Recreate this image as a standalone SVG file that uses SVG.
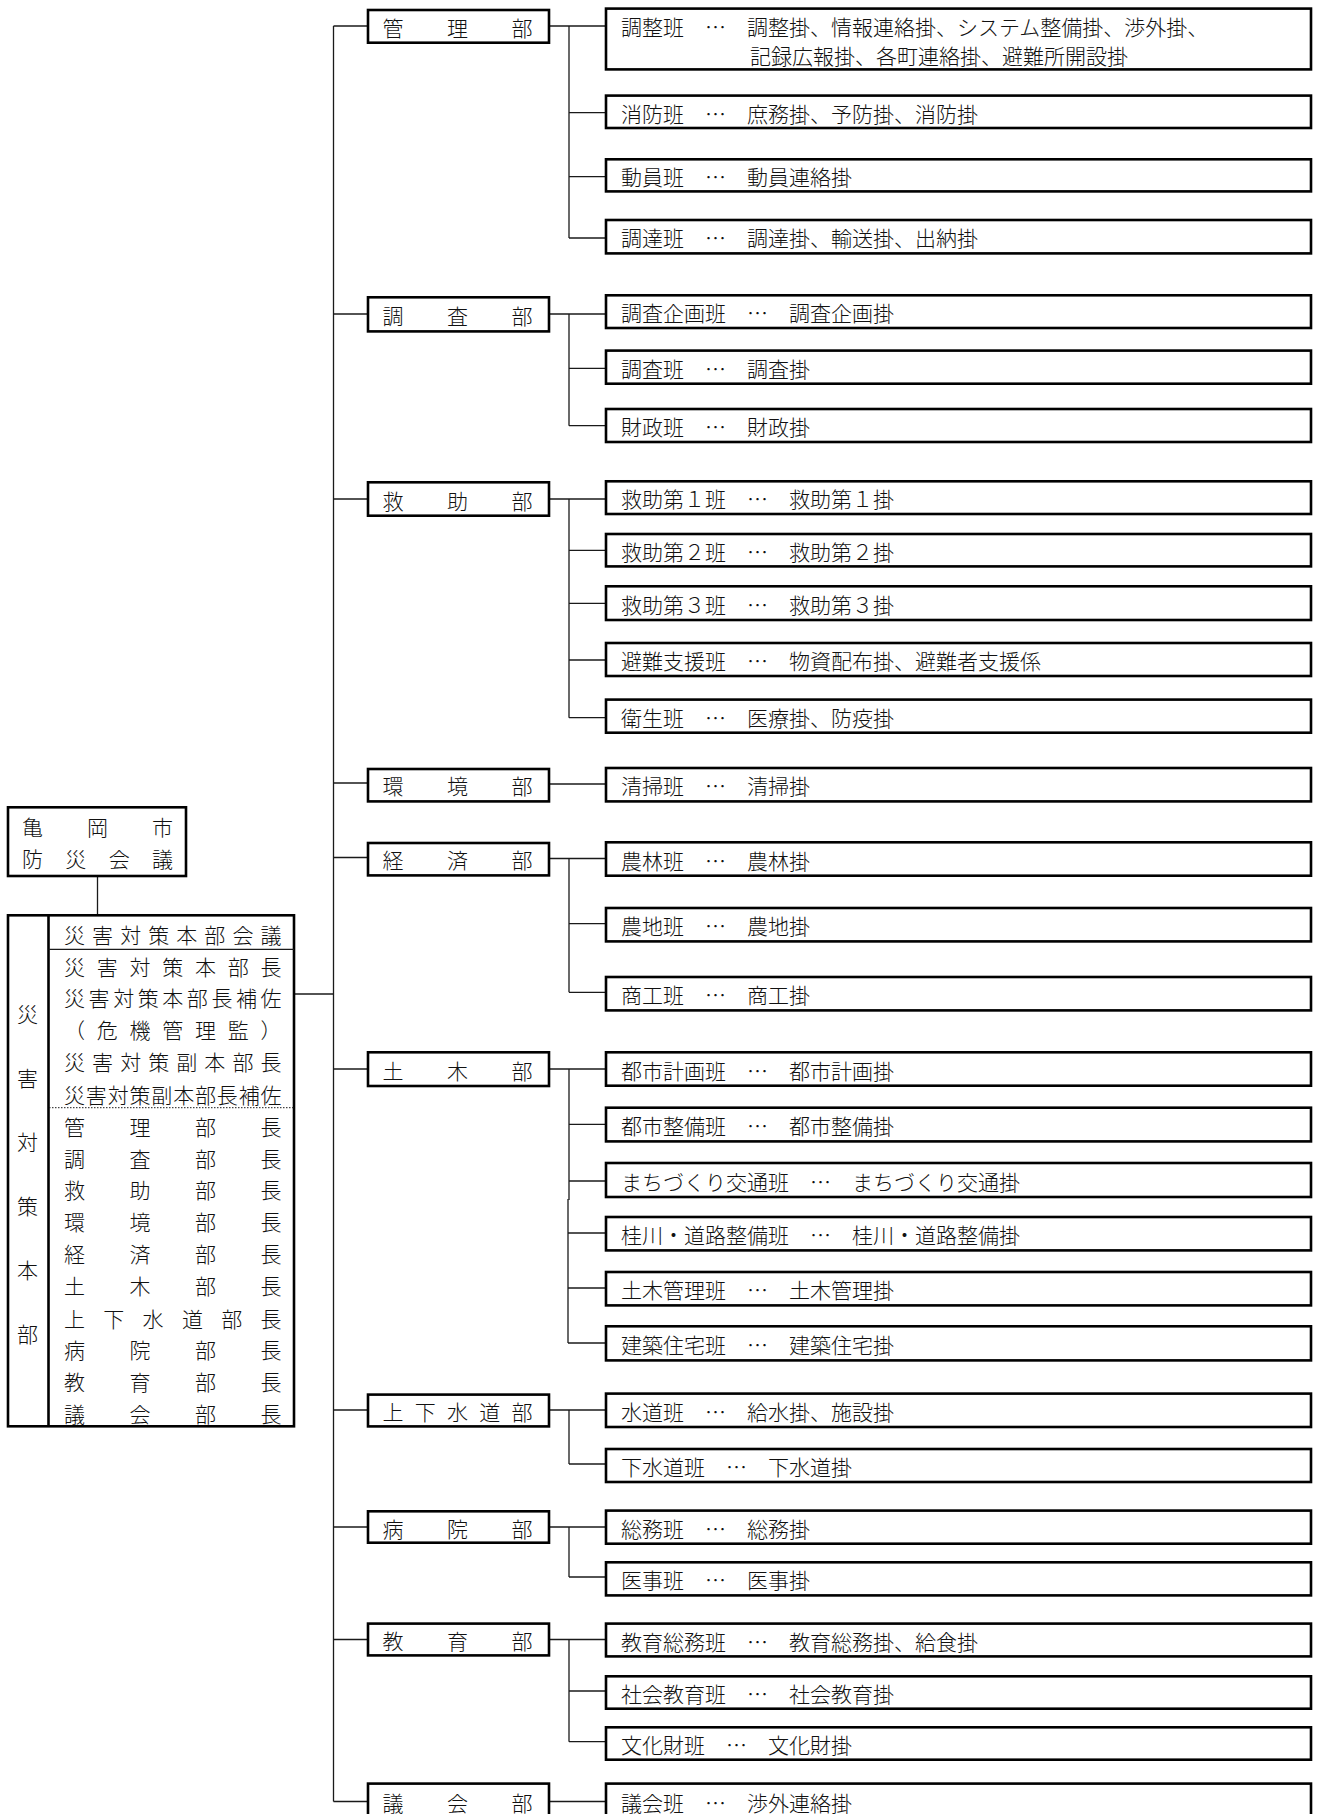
<svg xmlns="http://www.w3.org/2000/svg" width="1319" height="1814" viewBox="0 0 1319 1814">
<style>
.box{fill:#fff;stroke:#000;stroke-width:2.6}
.ln{fill:none;stroke:#1a1a1a;stroke-width:1.3}
.thin{fill:none;stroke:#1a1a1a;stroke-width:1.2}
.dot{fill:none;stroke:#1a1a1a;stroke-width:1;stroke-dasharray:1.5 1.5}
text{font-family:"Noto Sans CJK JP","Noto Sans CJK SC",sans-serif;font-size:21px;fill:#111;dominant-baseline:central;font-weight:300}
.mid{text-anchor:middle}
</style>
<rect width="1319" height="1814" fill="#fff"/>

<g id="connectors">
  <line class="ln" x1="97.5" y1="877" x2="97.5" y2="914"/>
  <line class="ln" x1="295" y1="994" x2="333.5" y2="994"/>
  <line class="ln" x1="333.5" y1="26" x2="333.5" y2="1801.5"/>
  <line class="ln" x1="333.5" y1="26" x2="368" y2="26"/>
  <line class="ln" x1="333.5" y1="314" x2="368" y2="314"/>
  <line class="ln" x1="333.5" y1="499" x2="368" y2="499"/>
  <line class="ln" x1="333.5" y1="783" x2="368" y2="783"/>
  <line class="ln" x1="333.5" y1="857.5" x2="368" y2="857.5"/>
  <line class="ln" x1="333.5" y1="1069" x2="368" y2="1069"/>
  <line class="ln" x1="333.5" y1="1410" x2="368" y2="1410"/>
  <line class="ln" x1="333.5" y1="1527" x2="368" y2="1527"/>
  <line class="ln" x1="333.5" y1="1639.5" x2="368" y2="1639.5"/>
  <line class="ln" x1="333.5" y1="1801.5" x2="368" y2="1801.5"/>
  <line class="ln" x1="549" y1="26" x2="606" y2="26"/>
  <line class="ln" x1="569" y1="26" x2="569" y2="238"/>
  <line class="ln" x1="569" y1="112.7" x2="606" y2="112.7"/>
  <line class="ln" x1="569" y1="176.7" x2="606" y2="176.7"/>
  <line class="ln" x1="569" y1="238" x2="606" y2="238"/>
  <line class="ln" x1="549" y1="314" x2="606" y2="314"/>
  <line class="ln" x1="569" y1="314" x2="569" y2="425.7"/>
  <line class="ln" x1="569" y1="368.3" x2="606" y2="368.3"/>
  <line class="ln" x1="569" y1="425.7" x2="606" y2="425.7"/>
  <line class="ln" x1="549" y1="499" x2="606" y2="499"/>
  <line class="ln" x1="569" y1="499" x2="569" y2="717.7"/>
  <line class="ln" x1="569" y1="550.3" x2="606" y2="550.3"/>
  <line class="ln" x1="569" y1="603.3" x2="606" y2="603.3"/>
  <line class="ln" x1="569" y1="660" x2="606" y2="660"/>
  <line class="ln" x1="569" y1="717.7" x2="606" y2="717.7"/>
  <line class="ln" x1="549" y1="784" x2="606" y2="784"/>
  <line class="ln" x1="549" y1="858.5" x2="606" y2="858.5"/>
  <line class="ln" x1="569" y1="858.5" x2="569" y2="992.3"/>
  <line class="ln" x1="569" y1="923.7" x2="606" y2="923.7"/>
  <line class="ln" x1="569" y1="992.3" x2="606" y2="992.3"/>
  <line class="ln" x1="549" y1="1069" x2="606" y2="1069"/>
  <line class="ln" x1="569" y1="1069" x2="569" y2="1200"/>
  <line class="ln" x1="568" y1="1199" x2="568" y2="1343"/>
  <line class="ln" x1="569" y1="1124.3" x2="606" y2="1124.3"/>
  <line class="ln" x1="569" y1="1181" x2="606" y2="1181"/>
  <line class="ln" x1="568" y1="1233" x2="606" y2="1233"/>
  <line class="ln" x1="568" y1="1288" x2="606" y2="1288"/>
  <line class="ln" x1="568" y1="1343" x2="606" y2="1343"/>
  <line class="ln" x1="549" y1="1410" x2="606" y2="1410"/>
  <line class="ln" x1="569" y1="1410" x2="569" y2="1464"/>
  <line class="ln" x1="569" y1="1464" x2="606" y2="1464"/>
  <line class="ln" x1="549" y1="1527" x2="606" y2="1527"/>
  <line class="ln" x1="569" y1="1527" x2="569" y2="1577"/>
  <line class="ln" x1="569" y1="1577" x2="606" y2="1577"/>
  <line class="ln" x1="549" y1="1639.5" x2="606" y2="1639.5"/>
  <line class="ln" x1="569" y1="1639.5" x2="569" y2="1741.7"/>
  <line class="ln" x1="569" y1="1691" x2="606" y2="1691"/>
  <line class="ln" x1="569" y1="1741.7" x2="606" y2="1741.7"/>
  <line class="ln" x1="549" y1="1801.5" x2="606" y2="1801.5"/>
</g>

<g id="kameoka-bousai-kaigi">
  <rect class="box" x="8" y="807.3" width="178" height="68.7"/>
  <text x="22" y="826">亀</text><text x="87" y="826">岡</text><text x="152" y="826">市</text>
  <text x="22" y="857.5">防</text><text x="65.3" y="857.5">災</text><text x="108.7" y="857.5">会</text><text x="152" y="857.5">議</text>
</g>

<g id="saigai-taisaku-honbu">
  <rect class="box" x="8" y="915.3" width="286" height="511"/>
  <line class="box" x1="48.5" y1="915.3" x2="48.5" y2="1426.3"/>
  <line class="thin" x1="48.5" y1="949.3" x2="294" y2="949.3"/>
  <line class="dot" x1="49" y1="1107.7" x2="294" y2="1107.7"/>
  <text class="mid" x="27.5" y="1013">災</text>
  <text class="mid" x="27.5" y="1077">害</text>
  <text class="mid" x="27.5" y="1141">対</text>
  <text class="mid" x="27.5" y="1205">策</text>
  <text class="mid" x="27.5" y="1269">本</text>
  <text class="mid" x="27.5" y="1333">部</text>
  <text x="64 92.07 120.14 148.21 176.29 204.36 232.43 260.5" y="934">災害対策本部会議</text>
  <text x="64 96.75 129.5 162.25 195 227.75 260.5" y="966">災害対策本部長</text>
  <text x="64 88.56 113.13 137.69 162.25 186.81 211.38 235.94 260.5" y="997">災害対策本部長補佐</text>
  <text x="64 96.75 129.5 162.25 195 227.75 260.5" y="1029">（危機管理監）</text>
  <text x="64 92.07 120.14 148.21 176.29 204.36 232.43 260.5" y="1061">災害対策副本部長</text>
  <text x="64 85.83 107.67 129.5 151.33 173.17 195 216.83 238.67 260.5" y="1094">災害対策副本部長補佐</text>
  <text x="64 129.5 195 260.5" y="1126">管理部長</text>
  <text x="64 129.5 195 260.5" y="1157.5">調査部長</text>
  <text x="64 129.5 195 260.5" y="1189">救助部長</text>
  <text x="64 129.5 195 260.5" y="1221">環境部長</text>
  <text x="64 129.5 195 260.5" y="1252.5">経済部長</text>
  <text x="64 129.5 195 260.5" y="1285">土木部長</text>
  <text x="64 103.3 142.6 181.9 221.2 260.5" y="1317.5">上下水道部長</text>
  <text x="64 129.5 195 260.5" y="1349">病院部長</text>
  <text x="64 129.5 195 260.5" y="1381">教育部長</text>
  <text x="64 129.5 195 260.5" y="1412.5">議会部長</text>
</g>

<g id="dept-kanri"><rect class="box" x="368" y="10" width="181" height="32.7"/><text x="382.5 447 511.5" y="26.5">管理部</text></g>
<g id="dept-chousa"><rect class="box" x="368" y="297.3" width="181" height="34.1"/><text x="382.5 447 511.5" y="314.5">調査部</text></g>
<g id="dept-kyujo"><rect class="box" x="368" y="482.3" width="181" height="33.4"/><text x="382.5 447 511.5" y="499.5">救助部</text></g>
<g id="dept-kankyo"><rect class="box" x="368" y="769" width="181" height="32.4"/><text x="382.5 447 511.5" y="785">環境部</text></g>
<g id="dept-keizai"><rect class="box" x="368" y="843" width="181" height="32.4"/><text x="382.5 447 511.5" y="859">経済部</text></g>
<g id="dept-doboku"><rect class="box" x="368" y="1052.3" width="181" height="33.7"/><text x="382.5 447 511.5" y="1069.5">土木部</text></g>
<g id="dept-jougesuidou"><rect class="box" x="368" y="1394.6" width="181" height="31.8"/><text x="382.5 414.75 447 479.25 511.5" y="1410.5">上下水道部</text></g>
<g id="dept-byouin"><rect class="box" x="368" y="1511.3" width="181" height="31.4"/><text x="382.5 447 511.5" y="1527.5">病院部</text></g>
<g id="dept-kyouiku"><rect class="box" x="368" y="1623.6" width="181" height="31.8"/><text x="382.5 447 511.5" y="1640">教育部</text></g>
<g id="dept-gikai"><rect class="box" x="368" y="1783.6" width="181" height="40"/><text x="382.5 447 511.5" y="1801.5">議会部</text></g>

<g id="han-chousei"><rect class="box" x="606" y="8.6" width="705" height="60.8"/><text x="621" y="26">調整班　…　調整掛、情報連絡掛、システム整備掛、渉外掛、</text><text x="750" y="55">記録広報掛、各町連絡掛、避難所開設掛</text></g>
<g id="han-shoubou"><rect class="box" x="606" y="95.6" width="705" height="32.4"/><text x="621" y="112.5">消防班　…　庶務掛、予防掛、消防掛</text></g>
<g id="han-douin"><rect class="box" x="606" y="159.3" width="705" height="32.1"/><text x="621" y="176">動員班　…　動員連絡掛</text></g>
<g id="han-choutatsu"><rect class="box" x="606" y="220" width="705" height="33.4"/><text x="621" y="237.2">調達班　…　調達掛、輸送掛、出納掛</text></g>
<g id="han-chousakikaku"><rect class="box" x="606" y="295.3" width="705" height="32.7"/><text x="621" y="312.2">調査企画班　…　調査企画掛</text></g>
<g id="han-chousa"><rect class="box" x="606" y="350.6" width="705" height="33.1"/><text x="621" y="367.7">調査班　…　調査掛</text></g>
<g id="han-zaisei"><rect class="box" x="606" y="409" width="705" height="33"/><text x="621" y="426">財政班　…　財政掛</text></g>
<g id="han-kyujo1"><rect class="box" x="606" y="481.3" width="705" height="32.7"/><text x="621" y="498.2">救助第１班　…　救助第１掛</text></g>
<g id="han-kyujo2"><rect class="box" x="606" y="534" width="705" height="32.4"/><text x="621" y="550.7">救助第２班　…　救助第２掛</text></g>
<g id="han-kyujo3"><rect class="box" x="606" y="586.3" width="705" height="33.7"/><text x="621" y="603.6">救助第３班　…　救助第３掛</text></g>
<g id="han-hinanshien"><rect class="box" x="606" y="643" width="705" height="33"/><text x="621" y="660">避難支援班　…　物資配布掛、避難者支援係</text></g>
<g id="han-eisei"><rect class="box" x="606" y="699.6" width="705" height="33.1"/><text x="621" y="716.7">衛生班　…　医療掛、防疫掛</text></g>
<g id="han-seisou"><rect class="box" x="606" y="768" width="705" height="33.4"/><text x="621" y="785.2">清掃班　…　清掃掛</text></g>
<g id="han-nourin"><rect class="box" x="606" y="842.3" width="705" height="33.4"/><text x="621" y="859.5">農林班　…　農林掛</text></g>
<g id="han-nouchi"><rect class="box" x="606" y="908" width="705" height="33.4"/><text x="621" y="925.2">農地班　…　農地掛</text></g>
<g id="han-shoukou"><rect class="box" x="606" y="977" width="705" height="33.4"/><text x="621" y="994.2">商工班　…　商工掛</text></g>
<g id="han-toshikeikaku"><rect class="box" x="606" y="1052.3" width="705" height="33.4"/><text x="621" y="1069.5">都市計画班　…　都市計画掛</text></g>
<g id="han-toshiseibi"><rect class="box" x="606" y="1107.7" width="705" height="33.7"/><text x="621" y="1125">都市整備班　…　都市整備掛</text></g>
<g id="han-machizukuri"><rect class="box" x="606" y="1163" width="705" height="34"/><text x="621" y="1180.5">まちづくり交通班　…　まちづくり交通掛</text></g>
<g id="han-katsuragawa"><rect class="box" x="606" y="1217" width="705" height="33.4"/><text x="621" y="1234.2">桂川・道路整備班　…　桂川・道路整備掛</text></g>
<g id="han-dobokukanri"><rect class="box" x="606" y="1272" width="705" height="33.4"/><text x="621" y="1289.2">土木管理班　…　土木管理掛</text></g>
<g id="han-kenchiku"><rect class="box" x="606" y="1326.3" width="705" height="34.1"/><text x="621" y="1343.8">建築住宅班　…　建築住宅掛</text></g>
<g id="han-suidou"><rect class="box" x="606" y="1393.6" width="705" height="33.4"/><text x="621" y="1410.8">水道班　…　給水掛、施設掛</text></g>
<g id="han-gesuidou"><rect class="box" x="606" y="1449" width="705" height="33"/><text x="621" y="1466">下水道班　…　下水道掛</text></g>
<g id="han-soumu"><rect class="box" x="606" y="1510.6" width="705" height="33.1"/><text x="621" y="1527.7">総務班　…　総務掛</text></g>
<g id="han-iji"><rect class="box" x="606" y="1562.3" width="705" height="33.1"/><text x="621" y="1579.4">医事班　…　医事掛</text></g>
<g id="han-kyouikusoumu"><rect class="box" x="606" y="1623.6" width="705" height="32.8"/><text x="621" y="1640.5">教育総務班　…　教育総務掛、給食掛</text></g>
<g id="han-shakaikyouiku"><rect class="box" x="606" y="1676.3" width="705" height="32.4"/><text x="621" y="1693">社会教育班　…　社会教育掛</text></g>
<g id="han-bunkazai"><rect class="box" x="606" y="1727.3" width="705" height="32.4"/><text x="621" y="1744">文化財班　…　文化財掛</text></g>
<g id="han-gikai"><rect class="box" x="606" y="1783.6" width="705" height="40"/><text x="621" y="1801.5">議会班　…　渉外連絡掛</text></g>
</svg>
